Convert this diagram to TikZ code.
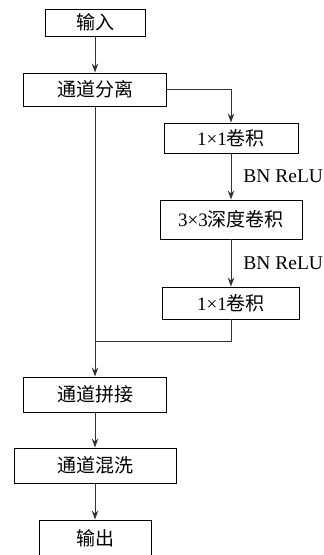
\documentclass[tikz,border=0pt]{standalone}
\usepackage{fontspec}
\setmainfont{Liberation Serif}
\newfontfamily\cjk{Noto Sans CJK SC}
\usetikzlibrary{arrows.meta}
\tikzstyle{block} = [rectangle, draw=black, line width=0.9pt, text centered, font=\fontsize{19}{22}\selectfont, inner sep=0]
\tikzstyle{arrow} = [line width=0.9pt, black!80, ->, >={Stealth[length=9pt,width=6.5pt]}]
\tikzstyle{lbl} = [text=black, font=\fontsize{19.5}{22}\selectfont, right=12pt, inner sep=0]

\begin{document}
\begin{tikzpicture}[x=1pt,y=-1pt]
\clip (0,0) rectangle (324,555);
\node[block,minimum width=100pt,minimum height=27pt] (in) at (95,22.5) {\cjk 输入};
\node[block,minimum width=143pt,minimum height=33pt] (split) at (95,89.5) {\cjk 通道分离};
\node[block,minimum width=134pt,minimum height=30pt] (conv1) at (231,138) {1\texttimes 1{\cjk 卷积}};
\node[block,minimum width=142pt,minimum height=39pt] (dw) at (231,219.5) {3\texttimes 3{\cjk 深度卷积}};
\node[block,minimum width=137pt,minimum height=32pt] (conv2) at (231,303) {1\texttimes 1{\cjk 卷积}};
\node[block,minimum width=143pt,minimum height=35pt] (cat) at (95,394.5) {\cjk 通道拼接};
\node[block,minimum width=162pt,minimum height=35pt] (shuffle) at (95,465.5) {\cjk 通道混洗};
\node[block,minimum width=112pt,minimum height=36pt] (out) at (95,538) {\cjk 输出};
\coordinate (join) at (95,341);

\draw[arrow] (in) -- (split);
\draw[arrow] (split.east) -| (conv1.north);
\draw[arrow] (conv1) -- node[lbl] {BN ReLU} (dw);
\draw[arrow] (dw) -- node[lbl] {BN ReLU} (conv2);
\draw[arrow,-] (conv2.south) |- (join);
\draw[arrow] (split) -- (cat);
\draw[arrow] (cat) -- (shuffle);
\draw[arrow] (shuffle) -- (out);
\end{tikzpicture}
\end{document}
